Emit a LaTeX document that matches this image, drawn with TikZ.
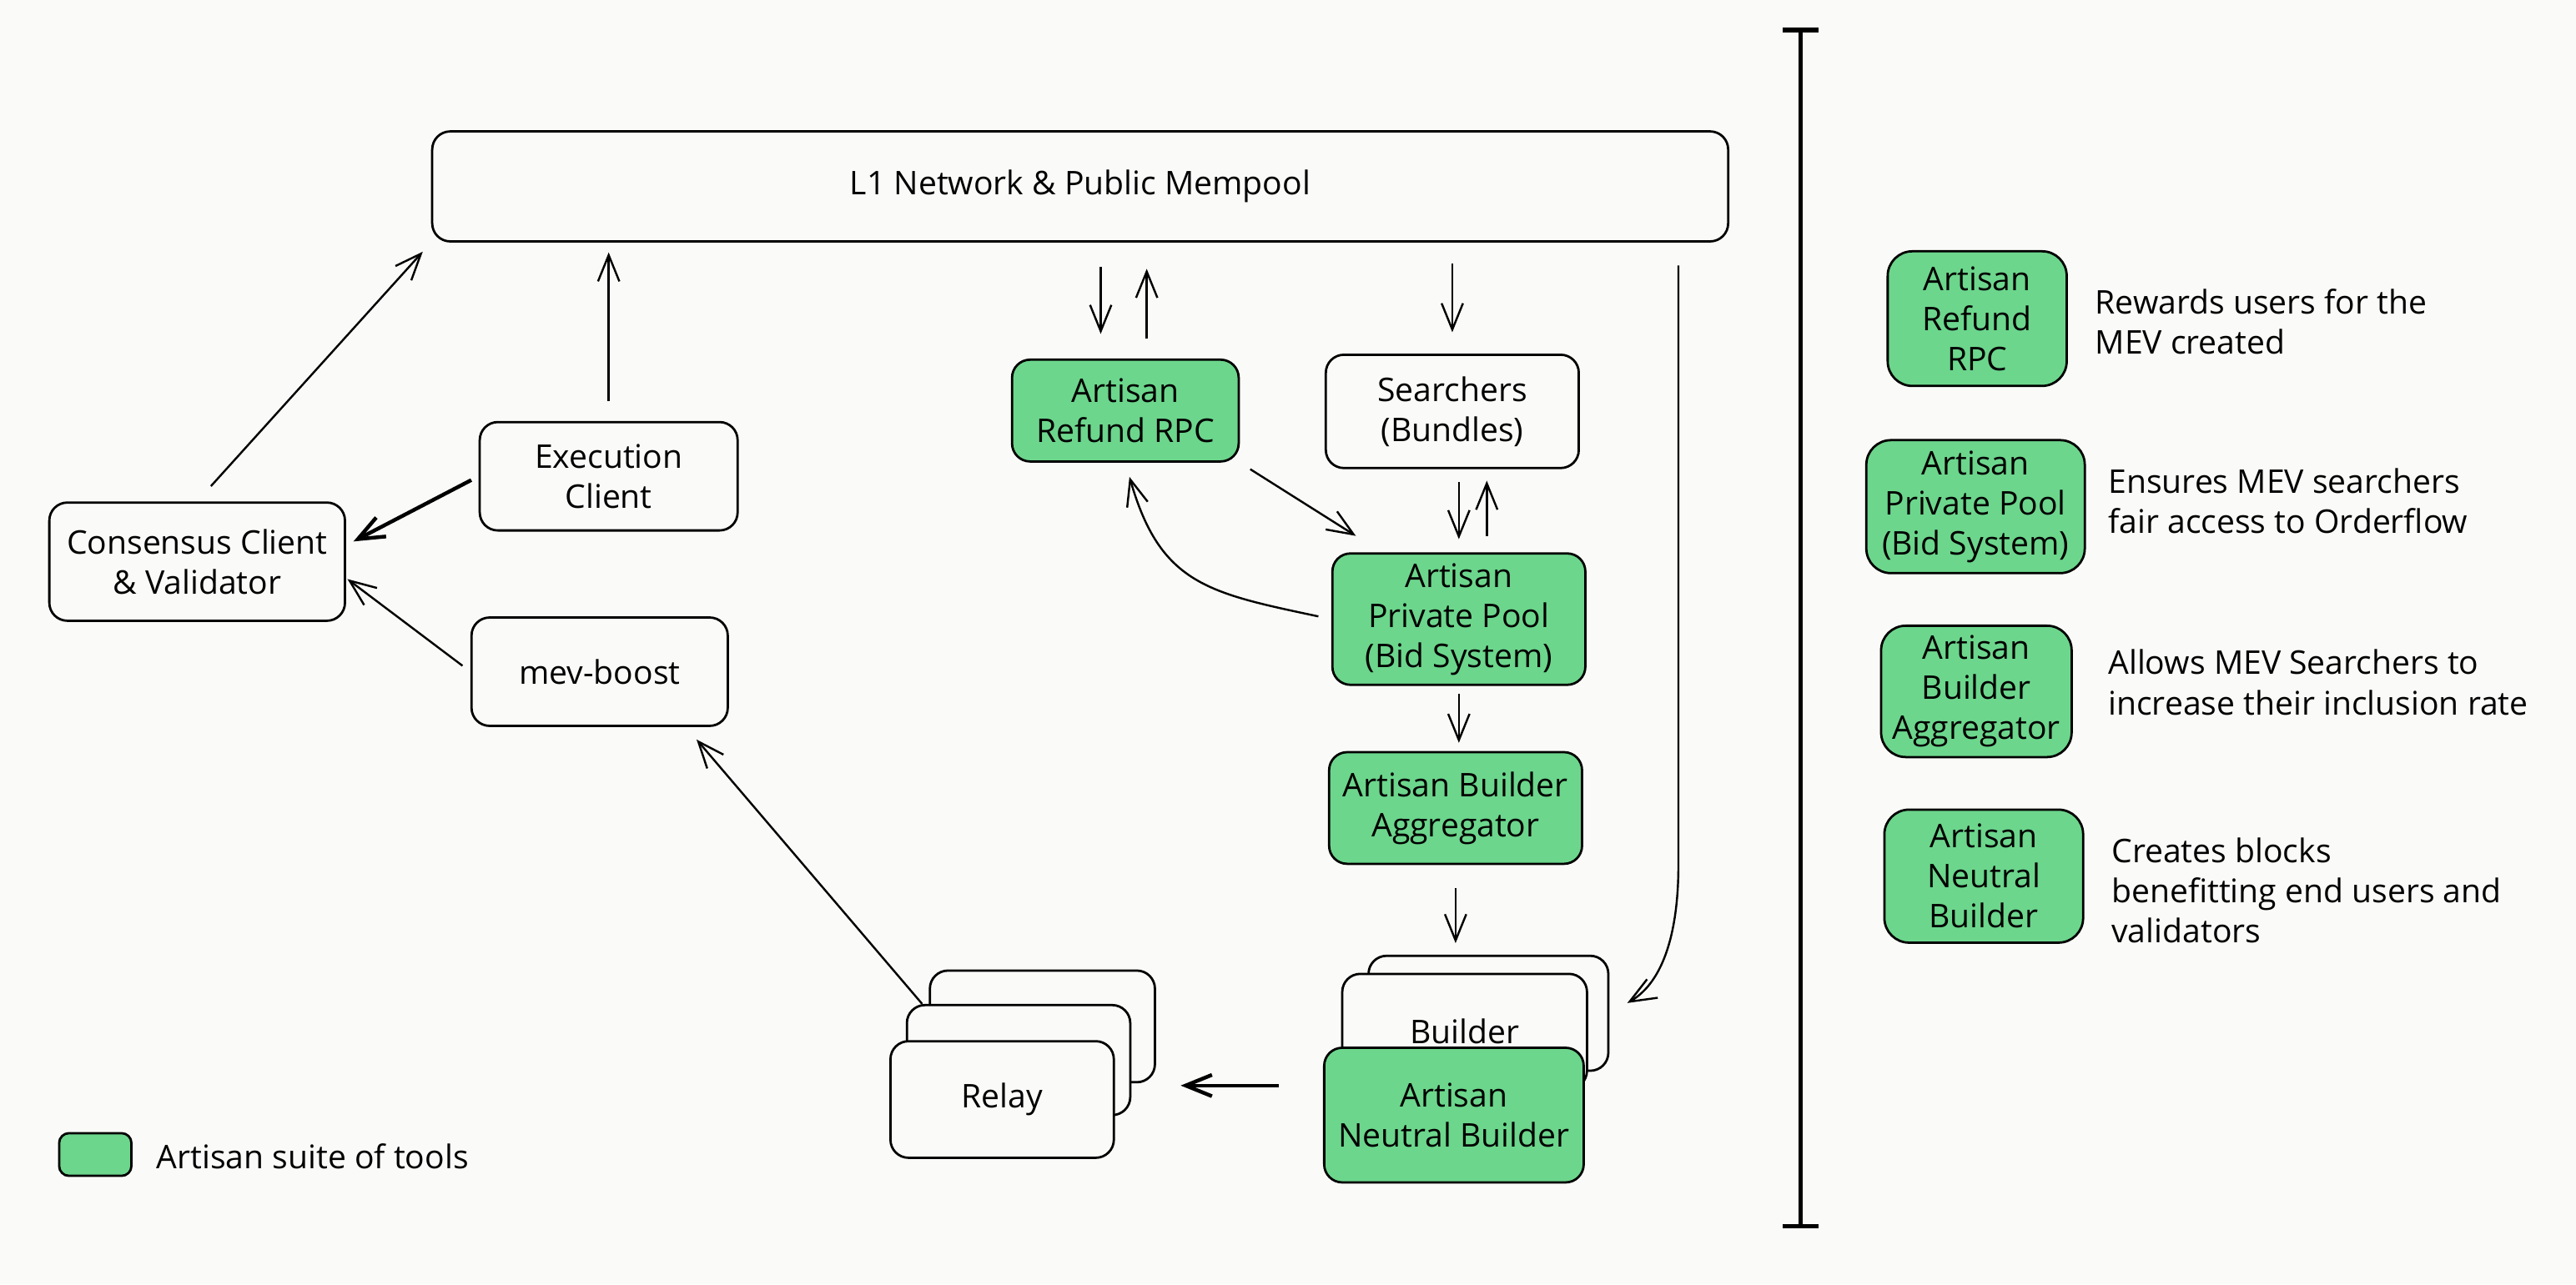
\documentclass[tikz,border=0pt]{standalone}
\usepackage{fontspec}
\setmainfont{Open Sans}
\usetikzlibrary{arrows.meta}
\definecolor{artisan}{RGB}{108,214,140}
\definecolor{paper}{RGB}{250,250,248}

\begin{document}
\begin{tikzpicture}[x=0.02cm, y=-0.02cm,
    font=\fontsize{11.3}{13.9}\selectfont,
    box/.style={draw, line width=0.8pt, rounded corners=0.22cm, fill=paper, align=center, inner sep=0pt},
    artisan/.style={box, fill=artisan},
    arr/.style={-{Straight Barb[length=0.32cm, width=0.26cm]}, line width=0.7pt},
    heavyarr/.style={arr, line width=1.3pt},
    desc/.style={anchor=west, align=left, inner sep=0pt}]
    \fill[paper] (0,0) rectangle (1568,782);

    % Boxes %
    \node[box, minimum width=15.78cm, minimum height=1.34cm] (l1) at (657.5,113.5) {L1 Network \& Public Mempool};
    \node[box, minimum width=3.6cm, minimum height=1.44cm] (cons) at (120,342) {Consensus Client\\\& Validator};
    \node[box, minimum width=3.14cm, minimum height=1.32cm] (exec) at (370.5,290) {Execution\\Client};
    \node[box, minimum width=3.12cm, minimum height=1.32cm] (mev) at (365,409) {mev-boost};
    \node[artisan, minimum width=2.76cm, minimum height=1.24cm] (rpc) at (685,250) {Artisan\\Refund RPC};
    \node[box, minimum width=3.08cm, minimum height=1.38cm] (srch) at (884,250.5) {Searchers\\(Bundles)};
    \node[artisan, minimum width=3.08cm, minimum height=1.6cm] (pool) at (888,377) {Artisan\\Private Pool\\(Bid System)};
    \node[artisan, minimum width=3.08cm, minimum height=1.36cm] (agg) at (886,492) {Artisan Builder\\Aggregator};

    % Stacks %
    \node[box, minimum width=2.92cm, minimum height=1.4cm] (bldC) at (906,617) {};
    \node[box, minimum width=2.98cm, minimum height=1.4cm] (bldB) at (891.5,628) {Builder};
    \node[artisan, minimum width=3.16cm, minimum height=1.64cm] (bld) at (885,679) {Artisan\\Neutral Builder};
    \node[box, minimum width=2.74cm, minimum height=1.36cm] (relayC) at (634.5,625) {};
    \node[box, minimum width=2.72cm, minimum height=1.34cm] (relayB) at (620,645.5) {};
    \node[box, minimum width=2.72cm, minimum height=1.42cm] (relay) at (610,669.5) {Relay};

    % Arrows %
    \draw[arr, shorten <=0.25cm, shorten >=0.15cm] (cons.north) -- (l1.south west);
    \draw[arr, shorten <=0.24cm, shorten >=0.12cm] (exec.north) -- (exec.north |- l1.south);
    \draw[heavyarr, shorten <=0.1cm, shorten >=0.1cm] (exec.west) -- ([yshift=0.2cm]cons.east);
    \draw[arr, shorten <=0.12cm, shorten >=0.02cm] (mev.west) -- ([yshift=-0.2cm]cons.east);
    \draw[arr, shorten >=0.2cm] ([xshift=0.2cm]relayB.north west) -- ([xshift=1.05cm]mev.south);
    \draw[arr, shorten <=0.3cm, shorten >=0.3cm] ([xshift=-0.3cm]rpc.north |- l1.south) -- ([xshift=-0.3cm]rpc.north);
    \draw[arr, shorten <=0.24cm, shorten >=0.32cm] ([xshift=0.26cm]rpc.north) -- ([xshift=0.26cm]rpc.north |- l1.south);
    \draw[arr, shorten <=0.26cm, shorten >=0.26cm] (srch.north |- l1.south) -- (srch.north);
    \draw[arr, shorten <=0.16cm, shorten >=0.16cm] (pool.north |- srch.south) -- (pool.north);
    \draw[arr, shorten <=0.2cm, shorten >=0.14cm] ([xshift=0.34cm]pool.north) -- ([xshift=0.34cm]pool.north |- srch.south);
    \draw[arr, shorten <=0.15cm] (rpc.south east) -- ([xshift=0.3cm, yshift=0.2cm]pool.north west);
    \draw[arr, shorten <=0.16cm, shorten >=0.18cm] (pool.west) to[out=168, in=-74, looseness=1.25] (rpc.south);
    \draw[arr, shorten <=0.1cm, shorten >=0.1cm] (pool.south |- pool.south) -- (pool.south |- agg.north);
    \draw[arr, shorten <=0.28cm, shorten >=0.14cm] (agg.south) -- (agg.south |- bldC.north);
    \draw[arr, shorten <=0.28cm, shorten >=0.25cm] ([xshift=-0.62cm]l1.south east) -- ([xshift=-0.62cm]l1.south east |- agg.south) to[out=-90, in=30] (bldC.east);
    \draw[heavyarr, shorten <=0.54cm, shorten >=0.8cm] ([yshift=0.36cm]bld.west) -- ([yshift=0.36cm]bld.west -| relay.east);

    % Legend %
    \node[artisan, rounded corners=0.12cm, minimum width=0.88cm, minimum height=0.52cm] (key) at (58,703) {};
    \node[desc] (keytext) at (95,704) {Artisan suite of tools};
    \draw[{Bar[width=0.44cm]}-{Bar[width=0.44cm]}, line width=1.6pt] (1096,17) -- (1096,748);

    \node[artisan, rounded corners=0.3cm, minimum width=2.18cm, minimum height=1.64cm] (lrpc) at (1203.5,194) {Artisan\\Refund\\RPC};
    \node[artisan, rounded corners=0.3cm, minimum width=2.66cm, minimum height=1.62cm] (lpool) at (1202.5,308.5) {Artisan\\Private Pool\\(Bid System)};
    \node[artisan, rounded corners=0.3cm, minimum width=2.32cm, minimum height=1.6cm] (lagg) at (1203,421) {Artisan\\Builder\\Aggregator};
    \node[artisan, rounded corners=0.3cm, minimum width=2.42cm, minimum height=1.62cm] (lbld) at (1207.5,533.5) {Artisan\\Neutral\\Builder};
    \node[desc] (drpc) at (1275,196) {Rewards users for the\\MEV created};
    \node[desc] (dpool) at (1283,305) {Ensures MEV searchers\\fair access to Orderflow};
    \node[desc] (dagg) at (1283,415.5) {Allows MEV Searchers to\\increase their inclusion rate};
    \node[desc] (dbld) at (1285,542) {Creates blocks\\benefitting end users and\\validators};
\end{tikzpicture}
\end{document}
